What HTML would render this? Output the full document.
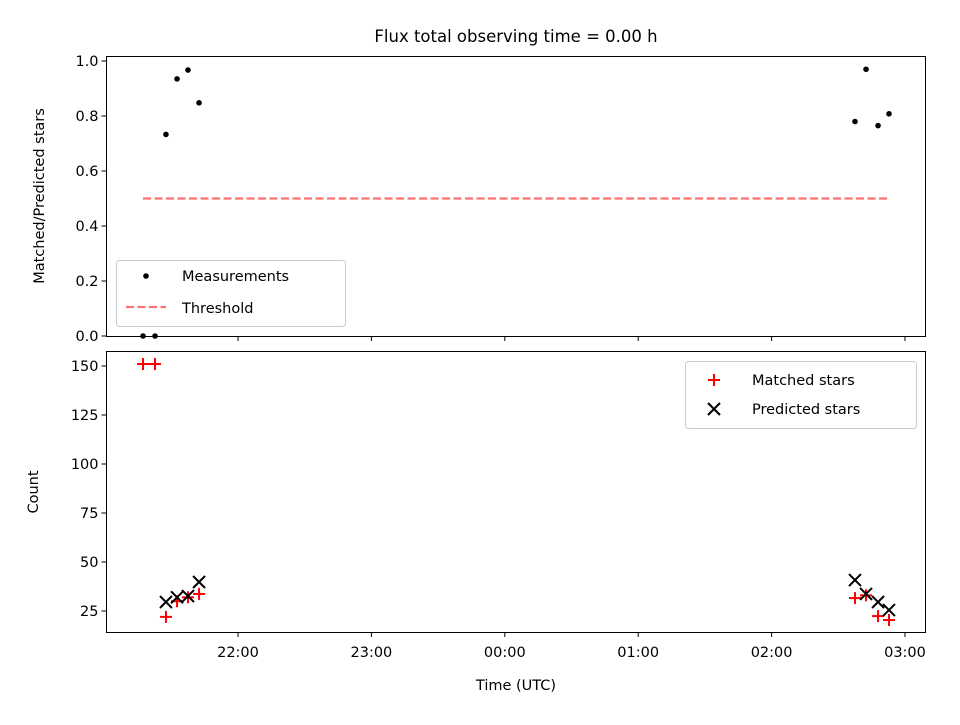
<!DOCTYPE html>
<html><head><meta charset="utf-8"><style>body{margin:0;background:#fff}svg text{font-family:"DejaVu Sans","Liberation Sans",sans-serif;fill:#000}</style></head>
<body>
<svg id="c" width="960" height="720" viewBox="0 0 960 720" xmlns="http://www.w3.org/2000/svg"></svg>
<script>
const times = [0.288,0.378,0.46,0.543,0.625,0.708,5.625,5.708,5.798,5.88];
const ratios = [0,0,0.733,0.935,0.967,0.848,0.78,0.97,0.765,0.808];
const matched = [151,151,22,30,32,33.7,31.6,33,22.4,20.4];
const predTimes = [0.46,0.543,0.625,0.708,5.625,5.708,5.798,5.88];
const predicted = [29.6,32,32.6,39.8,40.8,33.7,29.6,25.5];
const xTickLabels = ["22:00","23:00","00:00","01:00","02:00","03:00"];
const xTickHours = [1,2,3,4,5,6];
const topTicks = [0,0.2,0.4,0.6,0.8,1.0];
const botTicks = [25,50,75,100,125,150];
const threshold = 0.5;

const S = document.getElementById('c'), NS='http://www.w3.org/2000/svg';
function el(tag, attrs, parent, txt){const e=document.createElementNS(NS,tag);for(const k in attrs)e.setAttribute(k,attrs[k]);if(txt!==undefined)e.textContent=txt;(parent||S).appendChild(e);return e;}
const L=106.5,R=925.5;
const x=t=>104.6+t*133.4;
const yT=v=>336-v*275;
const yB=v=>366+(150-v)*1.96;

el('text',{x:516,y:42,'font-size':16.5,'text-anchor':'middle',},S,'Flux total observing time = 0.00 h');

const gt=el('g',{});
el('rect',{x:L,y:56.5,width:R-L,height:280,fill:'none',stroke:'#000','stroke-width':1,},gt);
topTicks.forEach(v=>{el('line',{x1:L-5,x2:L,y1:yT(v),y2:yT(v),stroke:'#000'},gt);
 el('text',{x:L-8,y:yT(v)+5,'font-size':14.5,'text-anchor':'end',},gt,v.toFixed(1));});
xTickHours.forEach(h=>el('line',{x1:x(h),x2:x(h),y1:336.5,y2:341,stroke:'#000'},gt));
el('text',{transform:'translate(44,196) rotate(-90)','font-size':14.5,'text-anchor':'middle',},gt,'Matched/Predicted stars');
el('line',{x1:x(times[0]),x2:x(times[times.length-1]),y1:yT(threshold),y2:yT(threshold),stroke:'#ff7070','stroke-width':2.2,'stroke-dasharray':'8,3.5',},gt);
times.forEach((t,i)=>{const c=el('circle',{cx:x(t),cy:yT(ratios[i]),r:2.8,fill:'#000'},gt);
 });
const lg1=el('g',{},gt);
el('rect',{x:116.5,y:260.5,width:229,height:66,rx:3,fill:'#fff','fill-opacity':0.8,stroke:'#ccc'},lg1);
el('circle',{cx:146,cy:276,r:2.8,fill:'#000'},lg1);
el('text',{x:182,y:281,'font-size':14.5},lg1,'Measurements');
el('line',{x1:126,x2:166,y1:307,y2:307,stroke:'#ff7070','stroke-width':2.2,'stroke-dasharray':'8,3.5'},lg1);
el('text',{x:182,y:313,'font-size':14.5},lg1,'Threshold');

const gb=el('g',{});
el('rect',{x:L,y:351.5,width:R-L,height:281,fill:'none',stroke:'#000',},gb);
botTicks.forEach(v=>{el('line',{x1:L-5,x2:L,y1:yB(v),y2:yB(v),stroke:'#000'},gb);
 el('text',{x:L-8,y:yB(v)+5,'font-size':14.5,'text-anchor':'end',},gb,String(v));});
xTickHours.forEach((h,i)=>{el('line',{x1:x(h),x2:x(h),y1:632.5,y2:637,stroke:'#000'},gb);
 el('text',{x:x(h),y:657,'font-size':14.5,'text-anchor':'middle',},gb,xTickLabels[i]);});
el('text',{x:516,y:690,'font-size':14.5,'text-anchor':'middle',},gb,'Time (UTC)');
el('text',{transform:'translate(38,492) rotate(-90)','font-size':14.5,'text-anchor':'middle',},gb,'Count');
function plus(cx,cy,p){const g=el('g',{stroke:'red','stroke-width':2},p);el('line',{x1:cx-6,x2:cx+6,y1:cy,y2:cy},g);el('line',{x1:cx,x2:cx,y1:cy-6,y2:cy+6},g);return g;}
function cross(cx,cy,p){const g=el('g',{stroke:'#000','stroke-width':2},p);el('line',{x1:cx-6,x2:cx+6,y1:cy-6,y2:cy+6},g);el('line',{x1:cx-6,x2:cx+6,y1:cy+6,y2:cy-6},g);return g;}
times.forEach((t,i)=>{const g=plus(x(t),yB(matched[i]),gb);
 });
predTimes.forEach((t,i)=>{const g=cross(x(t),yB(predicted[i]),gb);
 });
const lg2=el('g',{},gb);
el('rect',{x:685.5,y:361.5,width:231,height:67,rx:3,fill:'#fff','fill-opacity':0.8,stroke:'#ccc'},lg2);
plus(714,380,lg2);el('text',{x:752,y:385,'font-size':14.5},lg2,'Matched stars');
cross(714,409,lg2);el('text',{x:752,y:414,'font-size':14.5},lg2,'Predicted stars');
</script>
</body></html>
